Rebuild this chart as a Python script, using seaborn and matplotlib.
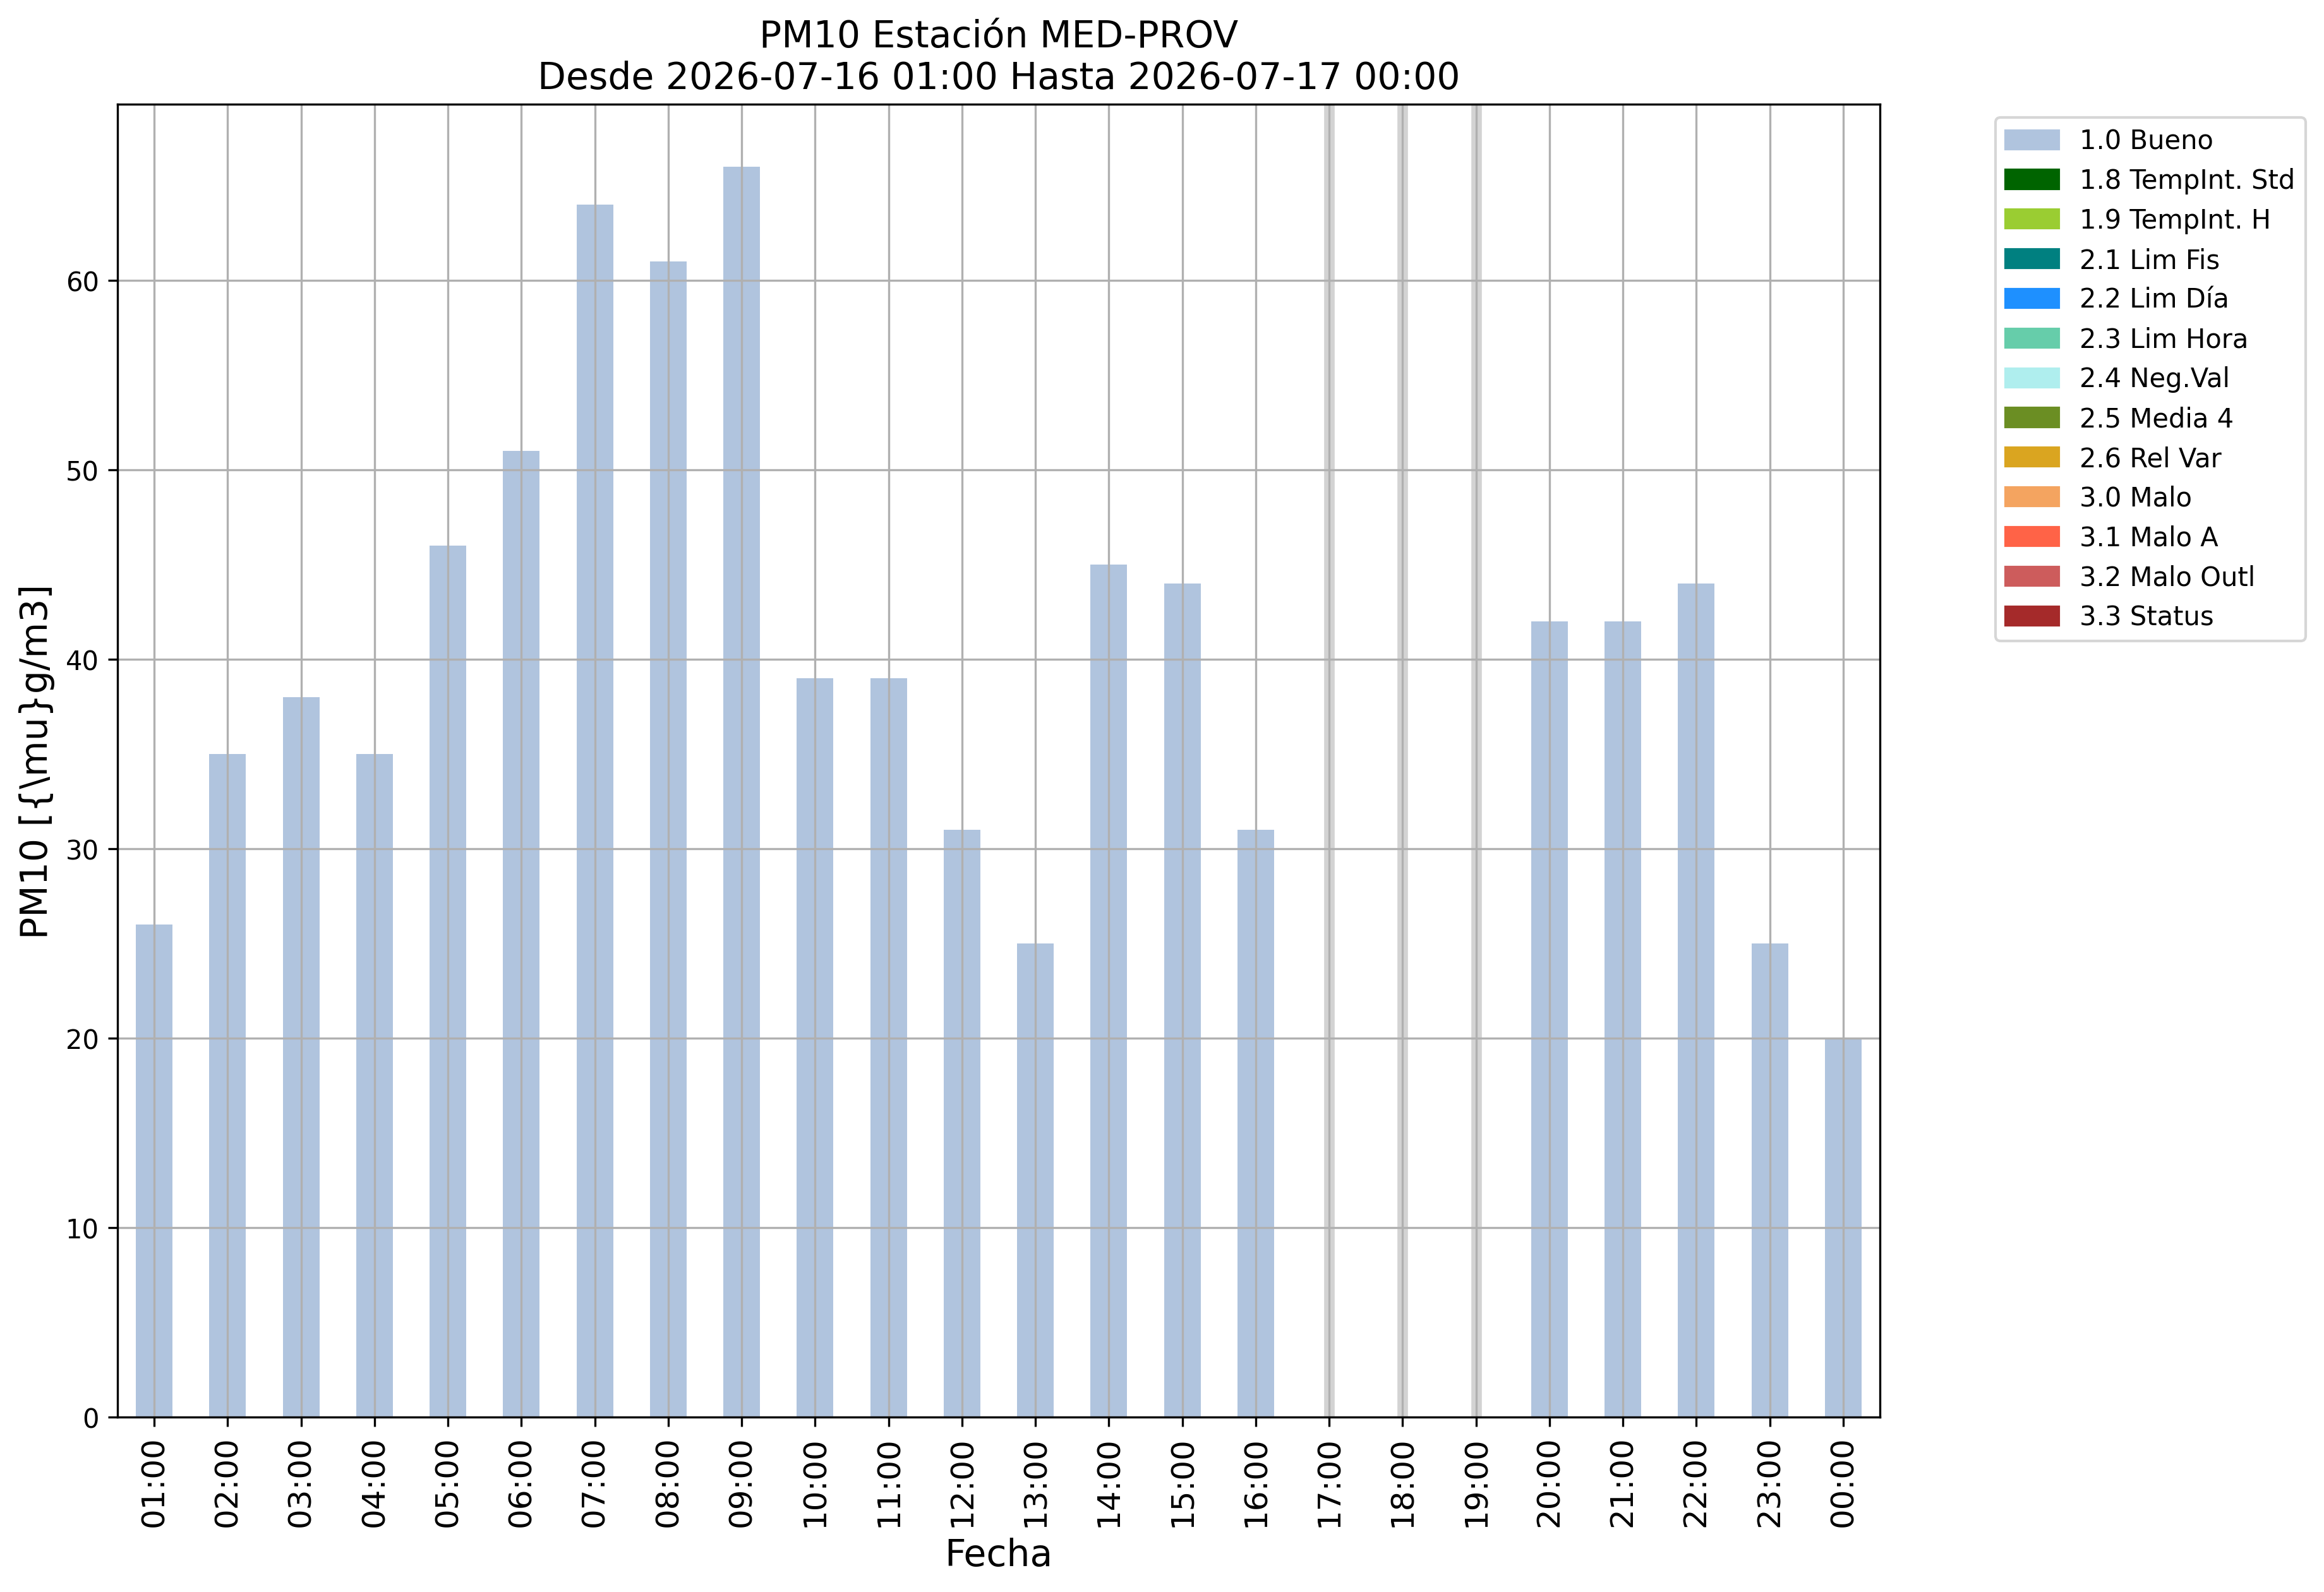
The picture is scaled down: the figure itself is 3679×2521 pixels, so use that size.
import numpy as np
import pandas as pd
import matplotlib
matplotlib.use("Agg")
import matplotlib.pyplot as plt
import matplotlib.patches as mpatches
import seaborn as sns

hours = ["01:00", "02:00", "03:00", "04:00", "05:00", "06:00", "07:00", "08:00",
         "09:00", "10:00", "11:00", "12:00", "13:00", "14:00", "15:00", "16:00",
         "17:00", "18:00", "19:00", "20:00", "21:00", "22:00", "23:00", "00:00"]
pm10 = [26, 35, 38, 35, 46, 51, 64, 61, 66, 39, 39, 31, 25, 45, 44, 31,
        np.nan, np.nan, np.nan, 42, 42, 44, 25, 20]

flag_labels = ["1.0 Bueno", "1.8 TempInt. Std", "1.9 TempInt. H", "2.1 Lim Fis",
               "2.2 Lim Día", "2.3 Lim Hora", "2.4 Neg.Val", "2.5 Media 4",
               "2.6 Rel Var", "3.0 Malo", "3.1 Malo A", "3.2 Malo Outl", "3.3 Status"]
flag_colors = ["lightsteelblue", "darkgreen", "yellowgreen", "teal", "dodgerblue",
               "mediumaquamarine", "paleturquoise", "olivedrab", "goldenrod",
               "sandybrown", "tomato", "indianred", "brown"]

title = "PM10 Estación MED-PROV\nDesde 2026-07-16 01:00 Hasta 2026-07-17 00:00"

df = pd.DataFrame({"hora": hours, "valor": pm10})
df_valid = df.copy()
df_valid["valor"] = df_valid["valor"].fillna(0)

fig, ax = plt.subplots(figsize=(12, 9))
sns.barplot(data=df_valid, x="hora", y="valor", order=hours, color=flag_colors[0],
            saturation=1, width=0.5, ax=ax, zorder=1)

# Missing data markers
for i, v in enumerate(pm10):
    if np.isnan(v):
        ax.axvline(i, color="lightgray", linewidth=4, zorder=1)

ax.grid(True)
ax.set_axisbelow("line")
ax.set_xlim(-0.5, len(hours) - 0.5)
ax.set_ylim(0, np.nanmax(pm10) * 1.05)

ax.set_title(title, fontsize=14)
ax.set_xlabel("Fecha", fontsize=14)
ax.set_ylabel("PM10 [{\\mu}g/m3]", fontsize=14)
ax.tick_params(axis="x", labelsize=12, labelrotation=90)
ax.tick_params(axis="y", labelsize=10)

handles = [mpatches.Patch(color=c, label=l) for c, l in zip(flag_colors, flag_labels)]
ax.legend(handles=handles, bbox_to_anchor=(1.058, 1), loc="upper left", fontsize=10)

fig.savefig("out.png", dpi=300, bbox_inches="tight")
